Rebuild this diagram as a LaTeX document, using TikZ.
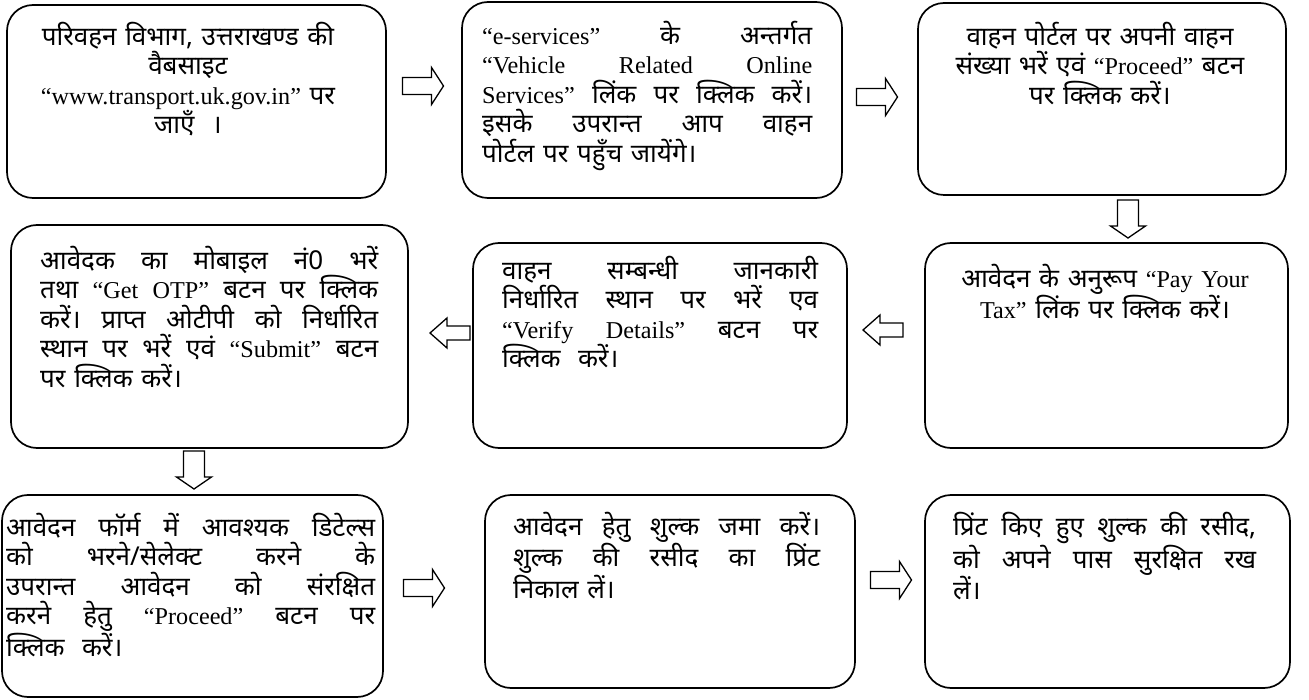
\documentclass[tikz,border=0pt]{standalone}
\usepackage{fontspec}
\setmainfont[Script=Devanagari]{Noto Sans}
\newfontfamily\latfont[Scale=0.93]{Liberation Serif}
\newcommand{\eng}[1]{{\latfont #1}}
\newcommand{\jline}[1]{{\spaceskip=.3em plus 1fil\xspaceskip=.3em plus 1fil\makebox[\hsize][s]{#1}}}
\setlength{\parindent}{0pt}
\tikzset{
  boxst/.style={draw, line width=1.7pt, rounded corners=26pt, inner sep=0pt},
  txt/.style={inner sep=0pt, font=\fontsize{26}{29.5}\selectfont},
  arrowline/.style={draw, line width=1.3pt, line join=miter, fill=white},
  pics/rarrow/.style={code={\draw[arrowline] (-20.5,-8.5) -- (8.5,-8.5) -- (8.5,-18.5) -- (20.5,0) -- (8.5,18.5) -- (8.5,8.5) -- (-20.5,8.5) -- cycle;}},
  pics/darrow/.style={code={\draw[arrowline] (-19,-10.5) -- (7,-10.5) -- (7,-17.5) -- (19,0) -- (7,17.5) -- (7,10.5) -- (-19,10.5) -- cycle;}},
  pics/larrow/.style={code={\draw[arrowline] (-20,-7) -- (3,-7) -- (3,-15) -- (20,0) -- (3,15) -- (3,7) -- (-20,7) -- cycle;}},
}
\begin{document}
\begin{tikzpicture}[x=1pt, y=-1pt]
\useasboundingbox[fill=white] (0,0) rectangle (1309,700);
% boxes
\node[boxst, minimum width=379pt, minimum height=193pt] (b1) at (196.5,101.5) {};
\node[boxst, minimum width=380pt, minimum height=196pt] (b2) at (652,100) {};
\node[boxst, minimum width=368pt, minimum height=192pt] (b3) at (1102,99) {};
\node[boxst, minimum width=397pt, minimum height=223pt] (b4) at (209.5,336.5) {};
\node[boxst, minimum width=374pt, minimum height=205pt] (b5) at (660,345.5) {};
\node[boxst, minimum width=363pt, minimum height=205pt] (b6) at (1106.5,345.5) {};
\node[boxst, minimum width=381pt, minimum height=202pt] (b7) at (192.5,596) {};
\node[boxst, minimum width=370pt, minimum height=193pt] (b8) at (670,591.5) {};
\node[boxst, minimum width=365pt, minimum height=193pt] (b9) at (1107.5,591.5) {};
% texts
\node[txt, text width=330pt, align=center, anchor=north] (t1) at (188,22) {परिवहन विभाग, उत्तराखण्ड की\\ वैबसाइट\\ \eng{“www.transport.uk.gov.in”} पर\\ जाएँ \ ।};
\node[txt, text width=330pt, align=left, anchor=north west] (t2) at (482,21) {\jline{\eng{“e-services”} के अन्तर्गत}\\ \jline{\eng{“Vehicle Related Online}}\\ \jline{\eng{Services”} लिंक पर क्लिक करें।}\\ \jline{इसके उपरान्त आप वाहन}\\ पोर्टल पर पहुँच जायेंगे।};
\node[txt, text width=340pt, align=center, anchor=north] (t3) at (1100,22) {वाहन पोर्टल पर अपनी वाहन\\ संख्या भरें एवं \eng{“Proceed”} बटन\\ पर क्लिक करें।};
\node[txt, text width=338pt, align=left, anchor=north west] (t4) at (40,246) {\jline{आवेदक का मोबाइल नं0 भरें}\\ \jline{तथा \eng{“Get OTP”} बटन पर क्लिक}\\ \jline{करें। प्राप्त ओटीपी को निर्धारित}\\ \jline{स्थान पर भरें एवं \eng{“Submit”} बटन}\\ पर क्लिक करें।};
\node[txt, text width=316pt, align=left, anchor=north west] (t5) at (502,256) {\jline{वाहन सम्बन्धी जानकारी}\\ \jline{निर्धारित स्थान पर भरें एव}\\ \jline{\eng{“Verify} \eng{Details”} बटन पर}\\ क्लिक \ करें।};
\node[txt, text width=330pt, align=center, anchor=north] (t6) at (1105,264) {आवेदन के अनुरूप \eng{“Pay Your}\\ \eng{Tax”} लिंक पर क्लिक करें।};
\node[txt, text width=369pt, align=left, anchor=north west] (t7) at (6,513) {\jline{आवेदन फॉर्म में आवश्यक डिटेल्स}\\ \jline{को भरने/सेलेक्ट करने के}\\ \jline{उपरान्त आवेदन को संरक्षित}\\ \jline{करने हेतु \eng{“Proceed”} बटन पर}\\ क्लिक \ करें।};
\node[txt, text width=307pt, align=left, anchor=north west] (t8) at (513,512) {\jline{आवेदन हेतु शुल्क जमा करें।}\\ \jline{शुल्क की रसीद का प्रिंट}\\ निकाल लें।};
\node[txt, text width=303pt, align=left, anchor=north west] (t9) at (953,512) {\jline{प्रिंट किए हुए शुल्क की रसीद,}\\ \jline{को अपने पास सुरक्षित रख}\\ लें।};
% block arrows
\coordinate (a12) at (423,86);
\coordinate (a23) at (877,97);
\coordinate (a36) at (1128,219);
\coordinate (a65) at (883,330);
\coordinate (a54) at (450,333);
\coordinate (a47) at (194,470);
\coordinate (a78) at (424,588);
\coordinate (a89) at (891,580);
\pic at (a12) {rarrow};
\pic at (a23) {rarrow};
\pic[rotate=-90] at (a36) {darrow};
\pic[rotate=180] at (a65) {larrow};
\pic[rotate=180] at (a54) {larrow};
\pic[rotate=-90] at (a47) {darrow};
\pic at (a78) {rarrow};
\pic at (a89) {rarrow};
\end{tikzpicture}
\end{document}
